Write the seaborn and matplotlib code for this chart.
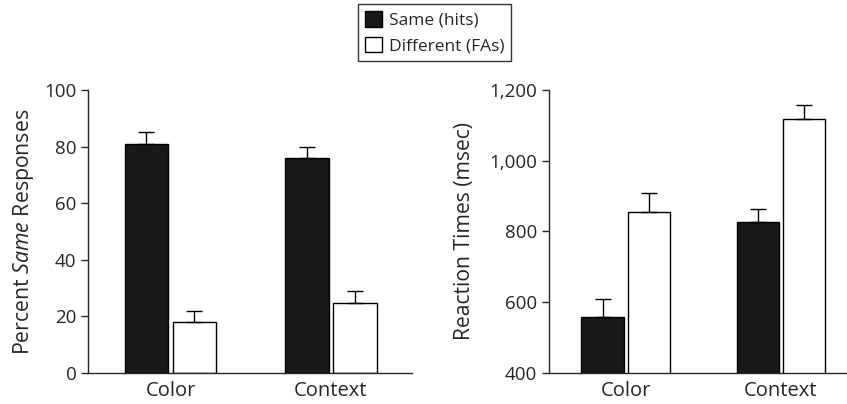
import matplotlib
matplotlib.use("Agg")
import matplotlib.pyplot as plt
from matplotlib.ticker import FuncFormatter
from matplotlib.patches import Patch
import seaborn as sns
import pandas as pd

# Conditions and response types
conditions = ["Color", "Context"]
response_types = ["Same (hits)", "Different (FAs)"]

# Percent "same" responses (means and upper error)
pct_same = [81.1, 76.1]
pct_diff = [17.8, 24.8]
pct_same_err = [4.0, 3.9]
pct_diff_err = [4.1, 4.1]

# Reaction times in msec (means and upper error)
rt_same = [557, 826]
rt_diff = [855, 1119]
rt_same_err = [52, 37]
rt_diff_err = [53, 40]

sns.set_style("ticks")
plt.rcParams["font.family"] = ["Open Sans", "DejaVu Sans"]
plt.rcParams["mathtext.fontset"] = "custom"
plt.rcParams["mathtext.it"] = "Open Sans:italic"
plt.rcParams["mathtext.rm"] = "Open Sans"

BLACK = "#181818"
palette = {response_types[0]: BLACK, response_types[1]: "white"}


def make_frame(same, diff, same_err, diff_err):
    return pd.DataFrame({
        "condition": conditions * 2,
        "response": [response_types[0]] * 2 + [response_types[1]] * 2,
        "value": list(same) + list(diff),
        "err": list(same_err) + list(diff_err),
    })


def draw_panel(ax, df):
    sns.barplot(data=df, x="condition", y="value", hue="response",
                order=conditions, hue_order=response_types,
                palette=palette, edgecolor="black", linewidth=1.0,
                width=0.6, gap=0.09, errorbar=None, legend=False, ax=ax)
    # upward-only error bars centred on each bar
    for hi, resp in enumerate(response_types):
        for ci, cond in enumerate(conditions):
            row = df[(df["response"] == resp) & (df["condition"] == cond)].iloc[0]
            bar = ax.patches[hi * len(conditions) + ci]
            xc = bar.get_x() + bar.get_width() / 2
            ax.errorbar(xc, row["value"], yerr=[[0], [row["err"]]],
                        fmt="none", ecolor="black", elinewidth=1.0,
                        capsize=5.5, capthick=1.0, zorder=1)
    sns.despine(ax=ax)
    ax.spines["left"].set_linewidth(1.0)
    ax.spines["bottom"].set_linewidth(1.0)
    ax.tick_params(axis="x", length=0, labelsize=14.5, pad=6)
    ax.tick_params(axis="y", length=5, width=1.0, labelsize=13.5, direction="out")
    ax.set_xlabel("")


fig = plt.figure(figsize=(8.47, 4.04), dpi=100)

ax1 = fig.add_axes([0.104, 0.0775, 0.382, 0.6995])
df1 = make_frame(pct_same, pct_diff, pct_same_err, pct_diff_err)
draw_panel(ax1, df1)
ax1.set_ylim(0, 100)
ax1.set_yticks([0, 20, 40, 60, 80, 100])
ax1.set_xlim(-0.514, 1.505)
ax1.set_ylabel(r"Percent $\mathit{Same}$ Responses", fontsize=15.3, labelpad=6)

ax2 = fig.add_axes([0.648, 0.0775, 0.352, 0.6995])
df2 = make_frame(rt_same, rt_diff, rt_same_err, rt_diff_err)
draw_panel(ax2, df2)
ax2.set_ylim(400, 1200)
ax2.set_yticks([400, 600, 800, 1000, 1200])
ax2.yaxis.set_major_formatter(FuncFormatter(lambda v, p: f"{int(v):,}"))
ax2.set_xlim(-0.497, 1.426)
ax2.set_ylabel("Reaction Times (msec)", fontsize=15.2, labelpad=10)

handles = [Patch(facecolor=palette[r], edgecolor="black", linewidth=1.0)
           for r in response_types]
leg = fig.legend(handles, response_types, loc="upper center",
                 bbox_to_anchor=(0.513, 0.99), frameon=True, fancybox=False,
                 edgecolor="black", fontsize=12.5, handlelength=1.0,
                 handleheight=1.0, handletextpad=0.4, borderpad=0.4,
                 labelspacing=0.45, borderaxespad=0.0)
leg.get_frame().set_linewidth(1.0)

fig.savefig("out.png", dpi=100)
